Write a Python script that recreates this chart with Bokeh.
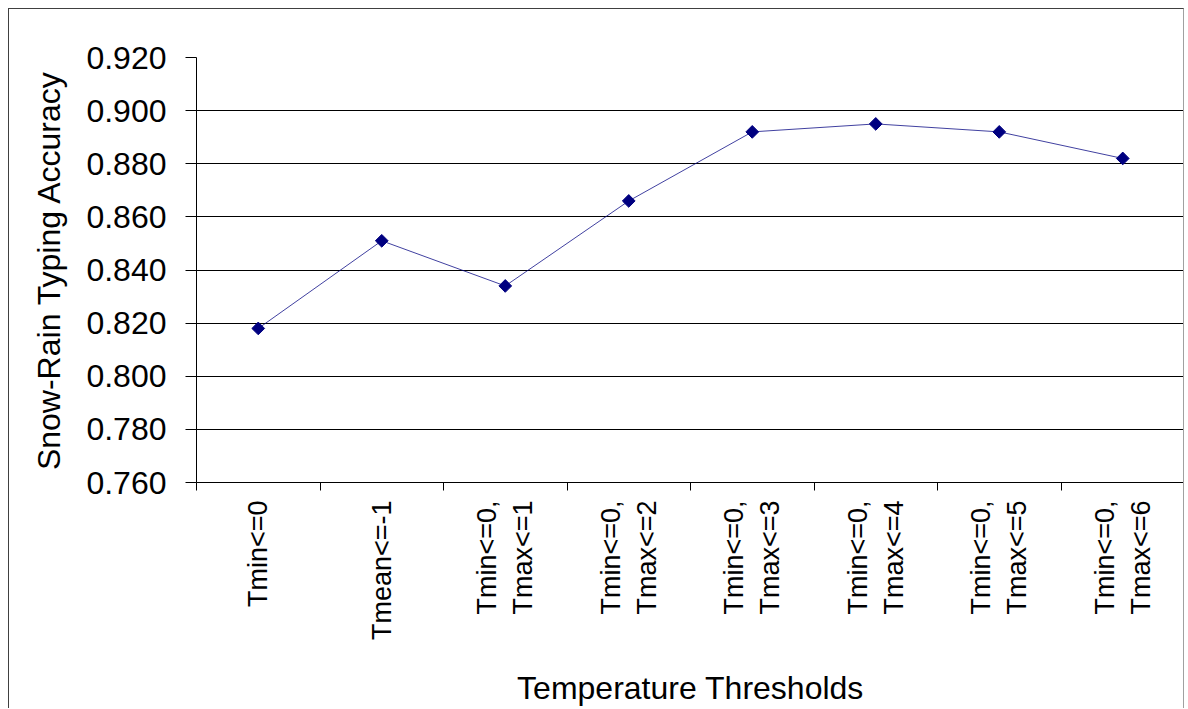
import math
from bokeh.plotting import figure
from bokeh.models import FixedTicker, Range1d, NumeralTickFormatter
from bokeh.embed import file_html
from bokeh.resources import INLINE

categories = ["Tmin<=0", "Tmean<=-1", "Tmin<=0,\nTmax<=1", "Tmin<=0,\nTmax<=2",
              "Tmin<=0,\nTmax<=3", "Tmin<=0,\nTmax<=4", "Tmin<=0,\nTmax<=5", "Tmin<=0,\nTmax<=6"]
accuracy = [0.818, 0.851, 0.834, 0.866, 0.892, 0.895, 0.892, 0.882]
y_ticks = [0.760, 0.780, 0.800, 0.820, 0.840, 0.860, 0.880, 0.900, 0.920]

FONT = "Liberation Sans"
n = len(categories)
xs = [i + 0.5 for i in range(n)]

p = figure(width=1176, height=700, output_backend="svg", toolbar_location=None,
           x_range=Range1d(0, n), y_range=Range1d(0.760, 0.920),
           min_border_left=187, min_border_right=1, min_border_top=48, min_border_bottom=226)
p.margin = (8, 0, 0, 8)
p.styles = {"border-left": "1px solid #404040", "border-top": "1px solid #404040",
            "border-right": "1px solid #a0a0a0"}
p.outline_line_color = None
p.background_fill_color = "white"
p.border_fill_color = "white"

p.line(xs, accuracy, line_color="#000080", line_width=1, line_alpha=0.75)
p.scatter(xs, accuracy, marker="square", size=9, angle=0.785398,
          fill_color="#000080", line_color="#000080")

# x axis
xa = p.xaxis[0]
xa.ticker = FixedTicker(ticks=xs, minor_ticks=list(range(n + 1)))
xa.major_label_overrides = {x: c for x, c in zip(xs, categories)}
xa.major_label_orientation = math.pi / 2
xa.major_tick_out = 0
xa.major_tick_in = 0
xa.minor_tick_out = 8
xa.minor_tick_in = 0
xa.minor_tick_line_color = "black"
xa.axis_line_color = "black"
xa.major_label_text_font = FONT
xa.major_label_text_font_size = "27px"
xa.major_label_text_color = "black"
xa.major_label_standoff = 10
xa.axis_label = "Temperature Thresholds"
xa.axis_label_text_font = FONT
xa.axis_label_text_font_size = "32px"
xa.axis_label_text_font_style = "normal"
xa.axis_label_text_color = "black"
xa.axis_label_standoff = 27

# y axis
ya = p.yaxis[0]
ya.ticker = FixedTicker(ticks=y_ticks)
ya.formatter = NumeralTickFormatter(format="0.000")
ya.major_tick_out = 11
ya.major_tick_in = 0
ya.minor_tick_line_color = None
ya.axis_line_color = "black"
ya.major_label_text_font = FONT
ya.major_label_text_font_size = "32px"
ya.major_label_text_color = "black"
ya.major_label_standoff = 19
ya.axis_label = "Snow-Rain Typing Accuracy"
ya.axis_label_text_font = FONT
ya.axis_label_text_font_size = "32px"
ya.axis_label_text_font_style = "normal"
ya.axis_label_text_color = "black"
ya.axis_label_standoff = 16

p.xgrid.grid_line_color = None
p.ygrid.ticker = FixedTicker(ticks=y_ticks)
p.ygrid.grid_line_color = "black"
p.ygrid.grid_line_width = 1

open("out.html", "w").write(file_html(p, INLINE))
